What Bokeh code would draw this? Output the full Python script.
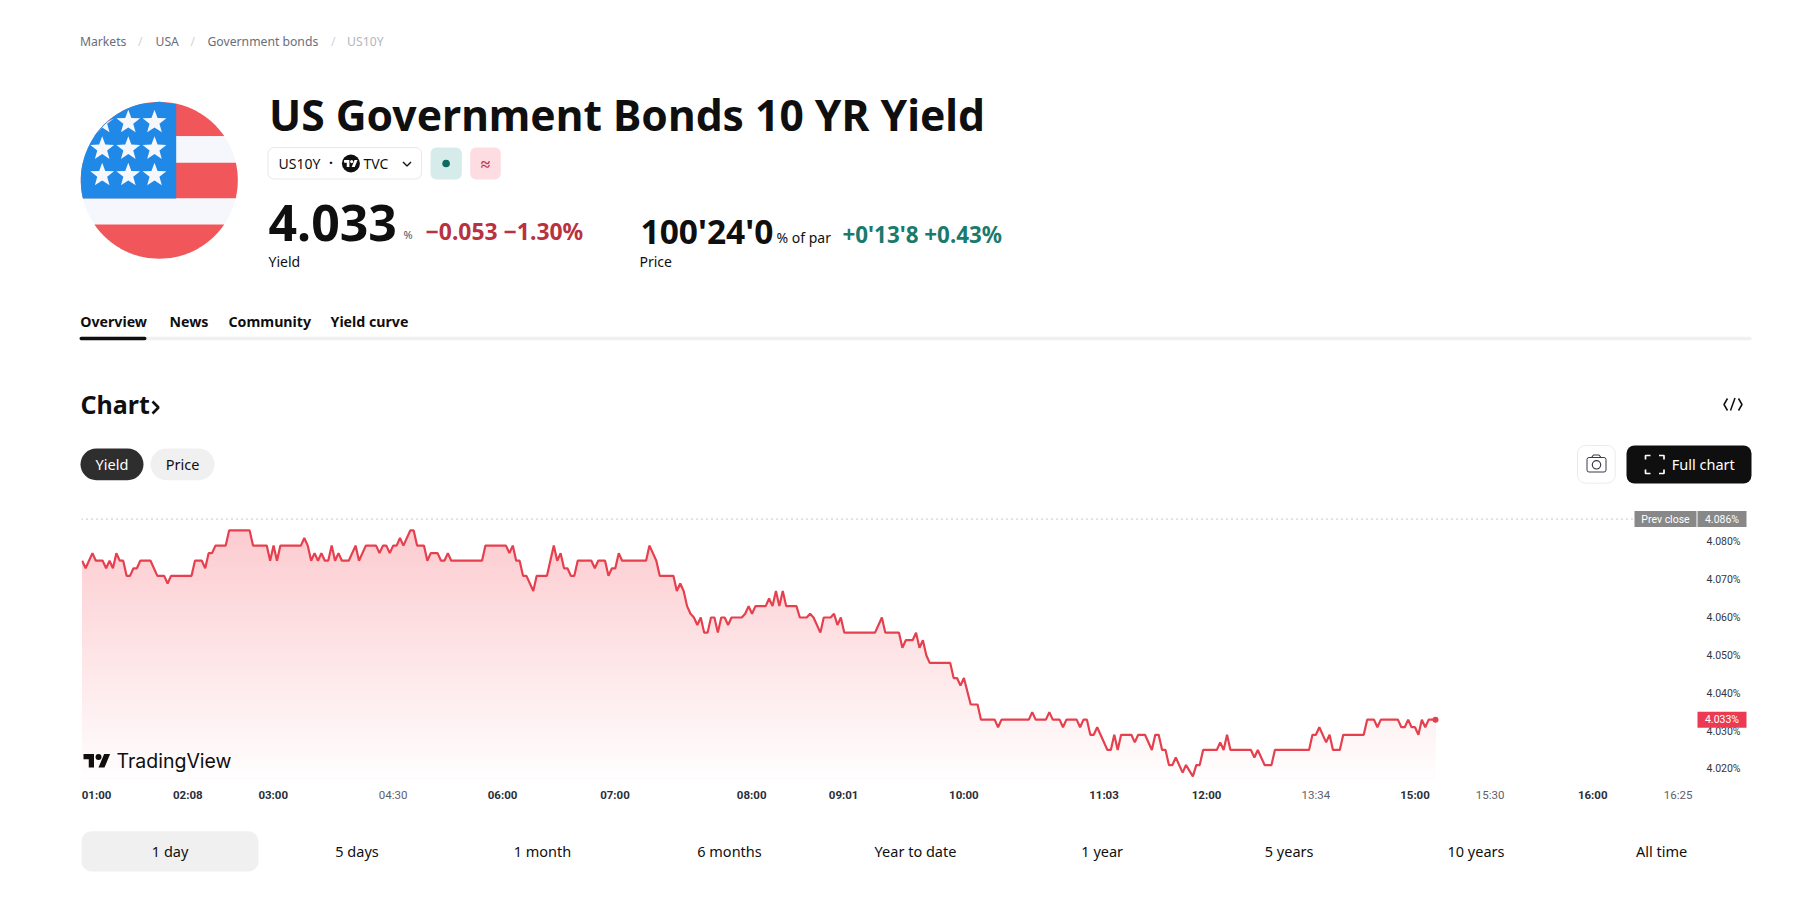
import numpy as np
from bokeh.core.properties import value
from bokeh.embed import file_html
from bokeh.layouts import column
from bokeh.models import FixedTicker, LinearAxis, PrintfTickFormatter, Range1d
from bokeh.plotting import figure
from bokeh.resources import INLINE

# ----------------------------
# Data
# ----------------------------
bars = [0, 1, 3, 4, 6, 7, 8, 9, 10, 11, 12, 13, 14, 15, 16, 17, 20, 22, 24, 25, 26, 32, 33, 35, 36, 37, 38, 39, 42, 43,
        49, 50, 54, 55, 56, 57, 58, 64, 65, 66, 67, 68, 69, 70, 71, 72, 73, 74, 75, 76, 78, 80, 81, 83, 86, 87, 88, 89,
        90, 91, 92, 93, 94, 96, 97, 98, 100, 101, 102, 104, 105, 106, 107, 108, 117, 118, 124, 125, 126, 127, 128, 129,
        130, 132, 133, 136, 138, 139, 140, 141, 142, 143, 144, 145, 149, 150, 151, 153, 154, 155, 156, 157, 158, 165,
        166, 167, 168, 169, 173, 174, 175, 176, 177, 178, 179, 180, 181, 182, 183, 184, 185, 186, 187, 188, 189, 190,
        193, 194, 195, 196, 197, 200, 201, 202, 203, 204, 205, 206, 209, 210, 212, 213, 214, 216, 217, 219, 220, 221,
        222, 223, 232, 234, 235, 239, 240, 241, 243, 244, 245, 246, 247, 248, 254, 255, 256, 257, 258, 260, 262, 263,
        267, 268, 269, 277, 278, 279, 282, 283, 284, 286, 287, 288, 291, 292, 293, 294, 295, 296, 297, 300, 301, 302,
        303, 304, 307, 308, 309, 311, 313, 314, 315, 316, 317, 318, 319, 320, 322, 323, 325, 326, 327, 328, 332, 333,
        334, 335, 336, 342, 343, 344, 346, 348, 349, 359, 360, 361, 362, 364, 365, 366, 368, 369, 375, 376, 378, 379,
        380, 385, 386, 387, 388, 389, 390, 391, 392, 393, 394, 396]
yields = [4.075, 4.073, 4.077, 4.075, 4.075, 4.073, 4.075, 4.073, 4.077, 4.075, 4.075, 4.071, 4.071, 4.073, 4.073, 4.075,
          4.075, 4.071, 4.071, 4.069, 4.071, 4.071, 4.075, 4.075, 4.073, 4.077, 4.077, 4.079, 4.079, 4.083,
          4.083, 4.079, 4.079, 4.075, 4.079, 4.075, 4.079, 4.079, 4.081, 4.079, 4.075, 4.077, 4.075, 4.077, 4.075, 4.075,
          4.079, 4.075, 4.077, 4.075, 4.075, 4.079, 4.075, 4.079, 4.079, 4.077, 4.079, 4.079,
          4.077, 4.079, 4.079, 4.081, 4.079, 4.083, 4.083, 4.079, 4.079, 4.075, 4.077, 4.077, 4.075, 4.075, 4.077, 4.075,
          4.075, 4.079, 4.079, 4.077, 4.079, 4.075, 4.075, 4.071,
          4.071, 4.067, 4.071, 4.071, 4.079, 4.075, 4.077, 4.073, 4.073, 4.071, 4.071, 4.075, 4.075, 4.073, 4.075, 4.075,
          4.071, 4.073, 4.073, 4.077, 4.075, 4.075,
          4.079, 4.077, 4.075, 4.071, 4.071, 4.067, 4.069, 4.067, 4.063, 4.061, 4.060, 4.058, 4.060, 4.056, 4.056, 4.060,
          4.060, 4.056, 4.060, 4.060, 4.058, 4.060,
          4.060, 4.061, 4.063, 4.061, 4.063, 4.063, 4.065, 4.063, 4.067, 4.063, 4.067, 4.063, 4.063, 4.060, 4.060, 4.061,
          4.060, 4.056, 4.060, 4.060, 4.061, 4.058,
          4.060, 4.056, 4.056, 4.060, 4.056, 4.056, 4.052, 4.054, 4.054, 4.056, 4.052, 4.054, 4.050, 4.048, 4.048, 4.044,
          4.044, 4.042, 4.044, 4.037, 4.037, 4.033,
          4.033, 4.031, 4.033, 4.033, 4.035, 4.033, 4.033, 4.035, 4.033, 4.033, 4.031, 4.033, 4.033, 4.031, 4.033, 4.033,
          4.029, 4.029, 4.031, 4.025, 4.025, 4.029,
          4.025, 4.029, 4.029, 4.027, 4.029, 4.029, 4.025, 4.029, 4.029, 4.025, 4.025, 4.021, 4.021, 4.023, 4.019, 4.021,
          4.018, 4.021, 4.021, 4.025, 4.025, 4.027,
          4.025, 4.029, 4.025, 4.025, 4.023, 4.025, 4.021, 4.021, 4.025, 4.025, 4.029, 4.029, 4.031, 4.027, 4.029, 4.025,
          4.025, 4.029, 4.029, 4.033, 4.033, 4.031,
          4.033, 4.033, 4.031, 4.031, 4.033, 4.031, 4.031, 4.029, 4.033, 4.031, 4.033, 4.033]

prev_close = 4.086
last_yield = yields[-1]

dark_ticks = [4.2, 30.9, 55.9, 123, 155.9, 195.9, 222.8, 258, 299, 329, 390, 442]
dark_labels = ["01:00", "02:08", "03:00", "06:00", "07:00", "08:00", "09:01", "10:00", "11:03", "12:00", "15:00", "16:00"]
light_ticks = [91, 361, 412, 467]
light_labels = ["04:30", "13:34", "15:30", "16:25"]
yield_ticks = [4.02, 4.03, 4.04, 4.05, 4.06, 4.07, 4.08]

ranges = ["1 day", "5 days", "1 month", "6 months", "Year to date", "1 year", "5 years", "10 years", "All time"]
range_centers = [170.6, 357.5, 543, 730, 916, 1102.7, 1289.6, 1476.5, 1662]

INK = "#0f0f0f"
UI_FONT = "Noto Sans"
RED_LINE = "#e6404f"


def blank_figure(top, bottom):
    # plain canvas whose data units are page pixels, y pointing down
    f = figure(width=1804, height=bottom - top, x_range=Range1d(1, 1805), y_range=Range1d(bottom + 1, top + 1),
               output_backend="svg", toolbar_location=None, min_border=0, outline_line_color=None, frame_align=False)
    f.axis.visible = False
    f.grid.visible = False
    return f


def txt(f, x, y, s, size, color=INK, style="normal", align="left", font=UI_FONT, **kw):
    f.text(x=[x], y=[y], text=[s], text_font=value(font), text_font_size=f"{size}px", text_color=color,
           text_font_style=style, text_align=align, text_baseline="middle", **kw)


def box(f, l, r, t, b, fill, line=None, radius=0):
    f.quad(left=[l], right=[r], top=[t], bottom=[b], fill_color=fill, line_color=line, border_radius=radius)


def tv_mark(f, x0, y0, k, color, **kw):
    # TradingView mark drawn on a 36x18 grid
    xs = [[x0 + k * u for u in (0, 14, 14, 7, 7, 0)], [x0 + k * u for u in (20, 28, 35.5, 27.5)]]
    ys = [[y0 + k * v for v in (0, 0, 18, 18, 7, 7)], [y0 + k * v for v in (18, 18, 0, 0)]]
    f.patches(xs, ys, fill_color=color, line_color=None, **kw)
    f.circle(x=[x0 + 20 * k], y=[y0 + 4 * k], radius=4 * k, fill_color=color, line_color=None, **kw)


# ----------------------------
# Header: breadcrumb, flag, quote, tabs
# ----------------------------
head = blank_figure(0, 510)

for x, s, c in [(80.4, "Markets", "#6a6d78"), (138.5, "/", "#d1d4dc"), (156, "USA", "#6a6d78"), (191, "/", "#d1d4dc"),
                (208, "Government bonds", "#6a6d78"), (331.5, "/", "#d1d4dc"), (347.6, "US10Y", "#b2b5be")]:
    txt(head, x, 41.5, s, 12.2, c)

# flag
cx, cy, r = 159.8, 180.8, 78.5


def band(y0, y1, xmax=None):
    ys = np.linspace(y0, y1, 40)
    half = np.sqrt(np.maximum(r ** 2 - (ys - cy) ** 2, 0))
    left = cx - half
    right = cx + half if xmax is None else np.minimum(cx + half, xmax)
    return list(left) + list(right[::-1]), list(ys) + list(ys[::-1])


for y0, y1, c in [(cy - r, 136.7, "#f0565a"), (136.7, 163.3, "#f5f7fc"), (163.3, 199, "#f0565a"),
                  (199, 225, "#f5f7fc"), (225, cy + r, "#f0565a")]:
    bx, by = band(y0, y1)
    head.patch(bx, by, fill_color=c, line_color=None)
bx, by = band(cy - r, 199, 176.7)
head.patch(bx, by, fill_color="#2089e8", line_color=None)

for sy in (122.7, 149.3, 175.7):
    for sx in (102.7, 128.8, 155):
        ang = np.pi * np.arange(10) / 5 - np.pi / 2
        rad = np.where(np.arange(10) % 2 == 0, 12.5, 5.2)
        px, py = sx + rad * np.cos(ang), sy + rad * np.sin(ang)
        dist = np.hypot(px - cx, py - cy)
        clamp = np.minimum(1, (r - 0.5) / dist)
        head.patch(cx + (px - cx) * clamp, cy + (py - cy) * clamp, fill_color="#f5f7fc", line_color=None)

txt(head, 269.5, 114, "US Government Bonds 10 YR Yield", 42.6, style="bold")

# symbol chip
box(head, 268.5, 422, 148, 179.5, "white", "#e6e8ee", 6)
txt(head, 279, 164, "US10Y", 14)
txt(head, 331.5, 163, "·", 14, align="center", style="bold")
head.circle(x=[351.4], y=[164], radius=9, fill_color="#0f0f0f", line_color=None)
tv_mark(head, 344.6, 160.6, 0.38, "white")
txt(head, 364, 164, "TVC", 14)
head.line([403.5, 407.5, 411.5], [162.5, 166.5, 162.5], line_color=INK, line_width=1.4)
box(head, 431, 462.4, 148, 180, "#d6ecea", None, 6)
head.circle(x=[446.6], y=[164], radius=3.8, fill_color="#0f6b62", line_color=None)
box(head, 470.7, 501.3, 148, 180, "#fddde1", None, 6)
txt(head, 486, 164, "≈", 17, "#c2334a", "bold", align="center")

# quote
txt(head, 269, 223, "4.033", 50, style="bold")
txt(head, 404, 234.5, "%", 11, "#50535e")
txt(head, 426, 232, "−0.053 −1.30%", 22.9, "#b8323f", "bold")
txt(head, 269, 262, "Yield", 14)
txt(head, 641, 231, "100'24'0", 33.5, style="bold")
txt(head, 777, 238, "% of par", 14)
txt(head, 843, 235, "+0'13'8 +0.43%", 22.4, "#1a7a6e", "bold")
txt(head, 640, 262, "Price", 14)

# tabs
for x, s in [(80.7, "Overview"), (170, "News"), (229, "Community"), (331, "Yield curve")]:
    txt(head, x, 321.5, s, 14.2, style="bold")
box(head, 80, 1752, 337.3, 340.7, "#f0f0f0", None, 2)
box(head, 80, 147, 337.3, 340.7, "#0f0f0f", None, 2)

# section heading and buttons
txt(head, 81, 404.5, "Chart", 25, style="bold")
head.line([153, 159, 153], [402, 408, 414], line_color=INK, line_width=2.6)
head.multi_line([[1728, 1724.5, 1728], [1731, 1735.5], [1739, 1742.5, 1739]],
                [[399, 405, 411], [411, 398.5], [399, 405, 411]], line_color=INK, line_width=1.5)
box(head, 81, 144, 449, 480.7, "#2e2e2e", None, 16)
txt(head, 112.5, 464, "Yield", 14.5, "white", align="center")
box(head, 151, 215, 449, 480.7, "#f0f0f0", None, 16)
txt(head, 183, 464, "Price", 14.5, align="center")

box(head, 1578, 1615.7, 446, 483.7, "white", "#ebebeb", 8)
box(head, 1587.5, 1606.5, 458, 472.5, None, "#3a3d46", 2)
head.line([1592, 1594, 1599.5, 1601.5], [458, 455.5, 455.5, 458], line_color="#3a3d46", line_width=1.2)
head.circle(x=[1597], y=[465.3], radius=4.2, fill_color=None, line_color="#3a3d46", line_width=1.2)

box(head, 1627, 1752, 446, 484, "#0f0f0f", None, 8)
head.multi_line([[1646, 1646, 1651], [1659.5, 1664.5, 1664.5], [1646, 1646, 1651], [1659.5, 1664.5, 1664.5]],
                [[460, 456, 456], [456, 456, 460], [470, 474, 474], [474, 474, 470]], line_color="white", line_width=1.7)
txt(head, 1672.3, 464.5, "Full chart", 14.5, "white")

# ----------------------------
# Chart
# ----------------------------
x0, x1 = -0.2, 487.0
y0, y1 = 4.01745, 4.08827
chart = figure(width=1804, height=302, x_range=Range1d(x0, x1), y_range=Range1d(y0, y1), output_backend="svg",
               toolbar_location=None, y_axis_location="right", min_border_left=81, min_border_right=58,
               min_border_top=0, min_border_bottom=34, outline_line_color=None, x_axis_type=None, frame_align=False)
chart.grid.visible = False
chart.extra_x_ranges["page"] = Range1d(81, 1746)
chart.extra_y_ranges["page"] = Range1d(778, 510)

# soft fade under the line, built from stacked opaque layers
levels = np.linspace(4.0840, 4.0175, 84)
for i, lev in enumerate(levels):
    t = i / (len(levels) - 1)
    shade = (round(252 + 3 * t), round(203 + 51 * t), round(207 + 47 * t))
    chart.varea(x=bars, y1=y0, y2=np.minimum(yields, lev), fill_color="#%02x%02x%02x" % shade, fill_alpha=1)

chart.line([x0, 454.2], [prev_close, prev_close], line_color="#8f929a", line_width=1, line_dash=[1, 4])
chart.line(bars, yields, line_color=RED_LINE, line_width=2.2)
chart.scatter(bars[-1:], yields[-1:], size=6, fill_color=RED_LINE, line_color=None)

tv_mark(chart, 83, 753.5, 0.75, "#0f0f0f", x_range_name="page", y_range_name="page")
txt(chart, 116, 760, "TradingView", 19.5, "#0f0f0f", font="Inter", x_range_name="page", y_range_name="page")

# time axes: darker labels on round times, paler ones in between
axis_style = dict(major_tick_in=0, major_tick_out=0, major_tick_line_color=None, minor_tick_line_color=None,
                  axis_line_color=None, major_label_text_font="Roboto", major_label_text_font_size="11.5px")
time_axis = LinearAxis(ticker=FixedTicker(ticks=dark_ticks), major_label_overrides=dict(zip(dark_ticks, dark_labels)),
                       major_label_text_color="#2a2e39", major_label_text_font_style="bold", major_label_standoff=9,
                       **axis_style)
chart.add_layout(time_axis, "below")
pale_axis = LinearAxis(ticker=FixedTicker(ticks=light_ticks), major_label_standoff=-17,
                       major_label_overrides=dict(zip(light_ticks, light_labels)),
                       major_label_text_color="#5d606b", **axis_style)
chart.add_layout(pale_axis, "below")

yax = chart.yaxis[0]
yax.ticker = FixedTicker(ticks=yield_ticks)
yax.formatter = PrintfTickFormatter(format="%.3f%%")
yax.major_tick_in = 0
yax.major_tick_out = 0
yax.major_tick_line_color = None
yax.minor_tick_line_color = None
yax.axis_line_color = None
yax.major_label_standoff = -40
yax.major_label_text_font = "Roboto"
yax.major_label_text_font_size = "10.5px"
yax.major_label_text_color = "#333640"

tag_half = 8 / 3783


def tag(left, right, y, s, fill):
    chart.quad(left=[left], right=[right], top=[y + tag_half], bottom=[y - tag_half], fill_color=fill, line_color=None,
               x_range_name="page", level="overlay")
    txt(chart, (left + right) / 2, y, s, 10.5, "white", align="center", font="Roboto", x_range_name="page",
        level="overlay")


tag(1634, 1696, prev_close, "Prev close", "#888888")
tag(1697, 1746, prev_close, "%.3f%%" % prev_close, "#888888")
tag(1697, 1746, last_yield, "%.3f%%" % last_yield, "#ec3a52")

# ----------------------------
# Range buttons
# ----------------------------
foot = blank_figure(812, 894)
box(foot, 82, 259, 831.7, 872, "#f0f0f0", None, 10)
for c, s in zip(range_centers, ranges):
    txt(foot, c, 851.7, s, 14.5, align="center")

page = column(head, chart, foot, spacing=0)
open("out.html", "w").write(file_html(page, INLINE))
